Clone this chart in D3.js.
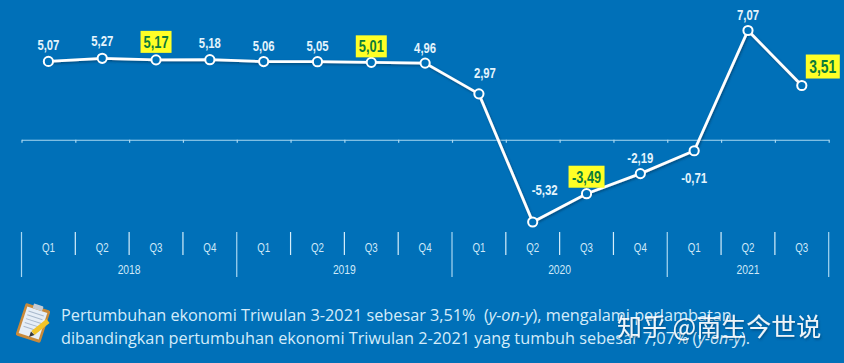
<!DOCTYPE html>
<html>
<head>
<meta charset="utf-8">
<script src="https://cdn.jsdelivr.net/npm/d3@7"></script>
<style>
  html, body { margin: 0; padding: 0; background: #0070b8; overflow: hidden; }
  svg { display: block; }
</style>
</head>
<body>
<div id="chart"></div>
<script>
const quarters = ['Q1','Q2','Q3','Q4','Q1','Q2','Q3','Q4','Q1','Q2','Q3','Q4','Q1','Q2','Q3'];
const growth = [5.07,5.27,5.17,5.18,5.06,5.05,5.01,4.96,2.97,-5.32,-3.49,-2.19,-0.71,7.07,3.51];
const years = ['2018','2019','2020','2021'];
const yearSpans = [4,4,4,3];
const highlighted = [2,6,10,14];
const noteLines = [
    [['Pertumbuhan ekonomi Triwulan 3-2021 sebesar 3,51%  (', false], ['y-on-y', true], ['), mengalami perlambatan', false]],
    [['dibandingkan pertumbuhan ekonomi Triwulan 2-2021 yang tumbuh sebesar 7,07% (', false], ['y-on-y', true], [').', false]]
];
const watermark = '知乎 @南生今世说';

const width = 844, height = 363;
const fmt = v => v.toFixed(2).replace('.', ',');

const svg = d3.select('#chart').append('svg')
    .attr('width', width)
    .attr('height', height);

svg.append('rect').attr('width', width).attr('height', height).attr('fill', '#0070b8');

const defs = svg.append('defs');
const shadow = defs.append('filter').attr('id', 'shadow')
    .attr('x', '-10%').attr('y', '-10%').attr('width', '120%').attr('height', '130%');
shadow.append('feDropShadow')
    .attr('dx', 1).attr('dy', 1.5).attr('stdDeviation', 1)
    .attr('flood-color', '#003a66').attr('flood-opacity', 0.7);

// one slot per quarter, the axis ticks sit on the slot edges
const xEdge = d3.scaleLinear().domain([0, quarters.length]).range([21.5, 828.7]);
const x = i => xEdge(i + 0.5);
const y = d3.scaleLinear().domain([-5.32, 7.07]).range([222, 30.5]);

const axisColor = '#a9d8f2';

const xAxis = d3.axisBottom(xEdge)
    .tickValues(d3.range(quarters.length + 1))
    .tickSize(3)
    .tickSizeOuter(0)
    .tickFormat('');

svg.append('g')
    .attr('class', 'axis x-axis')
    .attr('transform', `translate(0,${y(0)})`)
    .call(xAxis)
    .call(g => g.selectAll('path,line').attr('stroke', axisColor).attr('stroke-width', 1.2));

// quarter and year table under the chart
const table = svg.append('g').attr('class', 'table');
const yearEdges = [0, ...d3.cumsum(yearSpans)];

table.selectAll('.sep')
    .data(d3.range(quarters.length + 1))
    .join('line')
    .attr('class', 'sep')
    .attr('x1', d => xEdge(d)).attr('x2', d => xEdge(d))
    .attr('y1', 232)
    .attr('y2', d => yearEdges.includes(d) ? 277 : 255)
    .attr('stroke', d => yearEdges.includes(d) ? '#a9d8f2' : '#d5eefb')
    .attr('stroke-width', 1.2);

table.selectAll('.quarter')
    .data(quarters)
    .join('text')
    .attr('class', 'quarter')
    .attr('x', (d, i) => x(i))
    .attr('y', 252)
    .attr('text-anchor', 'middle')
    .attr('font-family', 'Liberation Sans')
    .attr('font-size', 12)
    .attr('fill', '#cfe9f8')
    .attr('textLength', 13)
    .attr('lengthAdjust', 'spacingAndGlyphs')
    .text(d => d);

table.selectAll('.year')
    .data(years)
    .join('text')
    .attr('class', 'year')
    .attr('x', (d, i) => xEdge((yearEdges[i] + yearEdges[i + 1]) / 2))
    .attr('y', 274)
    .attr('text-anchor', 'middle')
    .attr('font-family', 'Liberation Sans')
    .attr('font-size', 12)
    .attr('fill', '#cfe9f8')
    .attr('textLength', 23)
    .attr('lengthAdjust', 'spacingAndGlyphs')
    .text(d => d);

// line and markers
const line = d3.line().x((d, i) => x(i)).y(d => y(d));

svg.append('path')
    .datum(growth)
    .attr('class', 'line growth')
    .attr('d', line)
    .attr('fill', 'none')
    .attr('stroke', '#fff')
    .attr('stroke-width', 2.8)
    .attr('filter', 'url(#shadow)');

svg.selectAll('.marker')
    .data(growth)
    .join('circle')
    .attr('class', 'marker')
    .attr('cx', (d, i) => x(i))
    .attr('cy', d => y(d))
    .attr('r', 4.6)
    .attr('fill', '#0070b8')
    .attr('stroke', '#fff')
    .attr('stroke-width', 2);

// label offset from its point, same order as growth
const labelShift = [[0,-16],[0,-17],[0,-18],[0,-17],[0,-16],[0,-16],[0,-16],[0,-15],[6,-21],[12,-32],[0,-17],[0,-16],[0,27],[0,-16],[21,-19]];

const labels = svg.append('g').attr('class', 'labels');

labels.selectAll('.label-box')
    .data(growth.map((d, i) => i).filter(i => highlighted.includes(i)))
    .join('rect')
    .attr('class', 'label-box')
    .attr('x', i => x(i) + labelShift[i][0] - (growth[i] < 0 ? 18 : i === 14 ? 17 : 15.5))
    .attr('y', i => y(growth[i]) + labelShift[i][1] - (i === 14 ? 12 : 11))
    .attr('width', i => growth[i] < 0 ? 36 : i === 14 ? 34 : 31)
    .attr('height', i => i === 14 ? 24 : 22)
    .attr('fill', '#ffff26');

labels.selectAll('.label')
    .data(growth)
    .join('text')
    .attr('class', 'label')
    .attr('x', (d, i) => x(i) + labelShift[i][0])
    .attr('y', (d, i) => y(d) + labelShift[i][1] + (highlighted.includes(i) ? 6 : 5))
    .attr('text-anchor', 'middle')
    .attr('font-family', 'Liberation Sans')
    .attr('font-weight', 'bold')
    .attr('font-size', (d, i) => i === 14 ? 18 : highlighted.includes(i) ? 16 : 14)
    .attr('fill', (d, i) => highlighted.includes(i) ? '#0c7a3a' : '#e4f4fc')
    .attr('textLength', (d, i) => {
        const base = i === 14 ? 27 : highlighted.includes(i) ? 25 : 22;
        return d < 0 ? base + 4 : base;
    })
    .attr('lengthAdjust', 'spacingAndGlyphs')
    .text(d => fmt(d));

// note icon, a small clipboard with a pencil
const icon = svg.append('g').attr('class', 'icon').attr('transform', 'translate(33,323) rotate(18)');
icon.append('rect').attr('x', -13).attr('y', -17).attr('width', 26).attr('height', 34).attr('rx', 2).attr('fill', '#c98a3a');
icon.append('rect').attr('x', -10.5).attr('y', -14).attr('width', 21).attr('height', 28).attr('fill', '#e6eef6');
icon.append('rect').attr('x', -5).attr('y', -19).attr('width', 10).attr('height', 5).attr('rx', 1).attr('fill', '#c5ccd4');
icon.selectAll('.rule')
    .data(d3.range(5))
    .join('line')
    .attr('class', 'rule')
    .attr('x1', -8).attr('x2', 8)
    .attr('y1', d => -10 + d * 4).attr('y2', d => -10 + d * 4)
    .attr('stroke', '#a9b9cc').attr('stroke-width', 1);
svg.append('line')
    .attr('x1', 48).attr('y1', 321).attr('x2', 33).attr('y2', 333)
    .attr('stroke', '#f2c428').attr('stroke-width', 5);
svg.append('path').attr('d', 'M34.5,335 L29,337 L31,331.5 Z').attr('fill', '#3a3a3a');

// note text
const note = svg.append('g').attr('class', 'note');
noteLines.forEach((parts, row) => {
    const t = note.append('text')
        .attr('x', 61)
        .attr('y', 321 + row * 23)
        .attr('font-family', 'Open Sans')
        .attr('font-size', 16.25)
        .attr('fill', '#d4ecfa')
        .style('white-space', 'pre');
    parts.forEach(p => {
        t.append('tspan')
            .attr('font-style', p[1] ? 'italic' : 'normal')
            .text(p[0]);
    });
});

svg.append('text')
    .attr('class', 'watermark')
    .attr('x', 617)
    .attr('y', 336)
    .attr('font-family', 'Noto Sans CJK SC')
    .attr('font-size', 25)
    .attr('fill', '#fff')
    .attr('fill-opacity', 0.92)
    .attr('filter', 'url(#shadow)')
    .text(watermark);
</script>
</body>
</html>
